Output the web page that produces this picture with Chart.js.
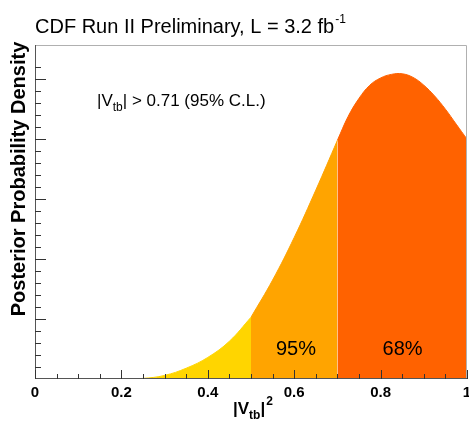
<!DOCTYPE html>
<html>
<head>
<meta charset="utf-8">
<script src="https://cdn.jsdelivr.net/npm/chart.js@4"></script>
<style>
  html, body { margin: 0; padding: 0; background: #ffffff; }
  #wrap { position: relative; width: 469px; height: 421px; }
</style>
</head>
<body>
<div id="wrap"><canvas id="cdfChart"></canvas></div>
<script>
// |Vtb|^2 values and posterior density (arbitrary units)
const xYellow = [0.20, 0.25, 0.30, 0.35, 0.40, 0.45, 0.50];
const yYellow = [0.00, 0.01, 0.06, 0.18, 0.36, 0.63, 1.03];

const xOrange = [0.50, 0.55, 0.60, 0.65, 0.70];
const yOrange = [1.03, 1.65, 2.36, 3.15, 3.98];

const xRed = [0.70, 0.725, 0.75, 0.775, 0.80, 0.825, 0.85, 0.875, 0.90, 0.925, 0.95, 0.975, 1.00];
const yRed = [3.98, 4.38, 4.68, 4.90, 5.02, 5.08, 5.09, 5.03, 4.90, 4.72, 4.50, 4.25, 4.00];

const xTickLabels = ['0', '0.2', '0.4', '0.6', '0.8', '1'];
const regionLabels = ['95%', '68%'];

const FONT = "'Liberation Sans', Arial, Helvetica, sans-serif";

const toPoints = (xs, ys) => xs.map((x, i) => ({ x: x, y: ys[i] }));

function region(xs, ys, color) {
  return {
    data: toPoints(xs, ys),
    backgroundColor: color,
    borderColor: color,
    borderWidth: 1,
    pointRadius: 0,
    fill: 'origin',
    tension: 0.4
  };
}

// ROOT-style frame, inward ticks and the text annotations
const rootStyle = {
  id: 'rootStyle',
  afterDraw(chart) {
    const { ctx, chartArea: a, scales } = chart;
    ctx.save();

    // frame
    ctx.lineWidth = 1;
    ctx.strokeStyle = '#b0b0b0';
    ctx.beginPath();
    ctx.moveTo(a.left, a.top + 0.5);
    ctx.lineTo(a.right - 0.5, a.top + 0.5);
    ctx.lineTo(a.right - 0.5, a.bottom);
    ctx.stroke();
    ctx.strokeStyle = '#555555';
    ctx.beginPath();
    ctx.moveTo(a.left + 0.5, a.top);
    ctx.lineTo(a.left + 0.5, a.bottom - 0.5);
    ctx.lineTo(a.right, a.bottom - 0.5);
    ctx.stroke();

    // x ticks
    ctx.strokeStyle = '#333333';
    scales.x.ticks.forEach(t => {
      const px = Math.round(scales.x.getPixelForValue(t.value)) + 0.5;
      const major = Math.abs(t.value / 0.2 - Math.round(t.value / 0.2)) < 1e-6;
      const len = major ? 9 : 5;
      ctx.beginPath();
      ctx.moveTo(px, a.bottom);
      ctx.lineTo(px, a.bottom - len);
      ctx.stroke();
    });
    // y ticks
    scales.y.ticks.forEach(t => {
      const r = t.value / 0.2;
      if (Math.abs(r - Math.round(r)) > 1e-6 || t.value === 0) return;
      const py = Math.round(scales.y.getPixelForValue(t.value)) + 0.5;
      const major = Math.abs(t.value - Math.round(t.value)) < 1e-6;
      const len = major ? 11 : 6;
      ctx.beginPath();
      ctx.moveTo(a.left, py);
      ctx.lineTo(a.left + len, py);
      ctx.stroke();
    });

    ctx.fillStyle = '#000000';
    ctx.textBaseline = 'alphabetic';
    ctx.textAlign = 'left';

    // title
    ctx.font = '20px ' + FONT;
    const t1 = 'CDF Run II Preliminary, L = 3.2 fb';
    ctx.fillText(t1, 35, 33);
    const w1 = ctx.measureText(t1).width;
    ctx.font = '12px ' + FONT;
    ctx.fillText('-1', 35 + w1 + 1, 23);

    // limit text
    let x = 97;
    ctx.font = '17px ' + FONT;
    ctx.fillText('|V', x, 106);
    x += ctx.measureText('|V').width;
    ctx.font = '12px ' + FONT;
    ctx.fillText('tb', x, 111);
    x += ctx.measureText('tb').width;
    ctx.font = '17px ' + FONT;
    ctx.fillText('| > 0.71 (95% C.L.)', x, 106);

    // region labels
    ctx.font = '20px ' + FONT;
    ctx.textAlign = 'center';
    ctx.fillText(regionLabels[0], scales.x.getPixelForValue(0.604), 355);
    ctx.fillText(regionLabels[1], scales.x.getPixelForValue(0.851), 355);

    // x title |Vtb|^2
    ctx.textAlign = 'left';
    ctx.font = 'bold 17px ' + FONT;
    x = 233;
    ctx.fillText('|V', x, 414);
    x += ctx.measureText('|V').width;
    ctx.font = 'bold 12px ' + FONT;
    ctx.fillText('tb', x, 419);
    x += ctx.measureText('tb').width;
    ctx.font = 'bold 17px ' + FONT;
    ctx.fillText('|', x, 414);
    x += ctx.measureText('|').width;
    ctx.font = 'bold 12px ' + FONT;
    ctx.fillText('2', x + 1, 405);

    // y title
    ctx.save();
    ctx.translate(25, 179);
    ctx.rotate(-Math.PI / 2);
    ctx.textAlign = 'center';
    ctx.font = 'bold 20px ' + FONT;
    ctx.fillText('Posterior Probability Density', 0, 0);
    ctx.restore();

    ctx.restore();
  }
};

new Chart(document.getElementById('cdfChart'), {
  type: 'line',
  data: {
    datasets: [
      region(xYellow, yYellow, '#FFD500'),
      region(xOrange, yOrange, '#FFA400'),
      region(xRed, yRed, '#FF6200')
    ]
  },
  options: {
    responsive: true,
    maintainAspectRatio: false,
    animation: false,
    layout: { padding: { left: 35, right: 2, top: 45, bottom: 14 } },
    plugins: {
      legend: { display: false },
      tooltip: { enabled: false }
    },
    scales: {
      x: {
        type: 'linear',
        min: 0,
        max: 1,
        grid: { display: false, drawTicks: false },
        border: { display: false },
        afterFit: scale => {
          scale.paddingLeft = 0;
          scale.paddingRight = 0;
        },
        ticks: {
          stepSize: 0.05,
          autoSkip: false,
          maxRotation: 0,
          padding: 5,
          color: '#000000',
          font: { family: FONT, size: 15, weight: 'bold' },
          callback: v => {
            const r = v / 0.2;
            if (Math.abs(r - Math.round(r)) > 1e-6) return '';
            return xTickLabels[Math.round(r)];
          }
        }
      },
      y: {
        min: 0,
        max: 5.57,
        grid: { display: false, drawTicks: false },
        border: { display: false },
        ticks: { display: false, stepSize: 0.2 }
      }
    }
  },
  plugins: [rootStyle]
});
</script>
</body>
</html>
